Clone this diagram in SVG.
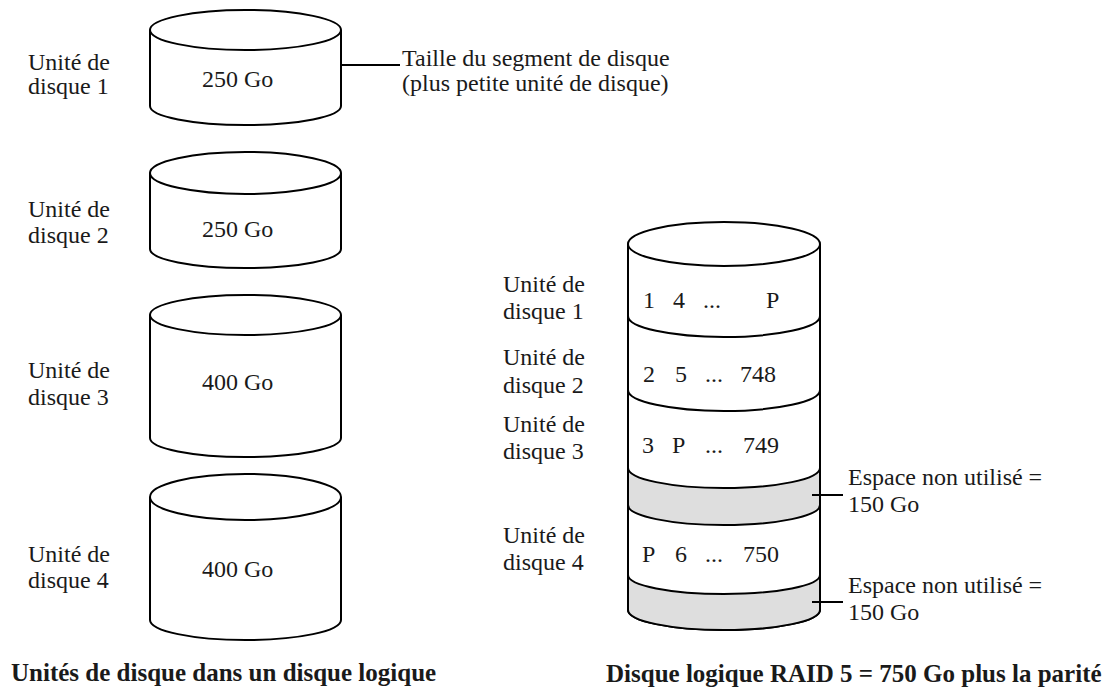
<svg xmlns="http://www.w3.org/2000/svg" width="1112" height="690" viewBox="0 0 1112 690">
<style>
text{font-family:'Liberation Serif','Times New Roman','DejaVu Serif',serif;font-size:24px;fill:#1a1a1a}
.b{font-size:25px;font-weight:bold}
.s{fill:#fff;stroke:#000;stroke-width:2}
.l{fill:none;stroke:#000;stroke-width:2}
.g{fill:#dedede;stroke:none}
</style>
<rect width="1112" height="690" fill="#fff"/>
<g id="disk1">
<path class="s" d="M150,30 L150,106 A95.5,19 0 0 0 341,106 L341,30"/>
<ellipse class="s" cx="245.5" cy="30" rx="95.5" ry="20"/>
<text x="202" y="87">250 Go</text>
<text x="28" y="70">Unité de</text>
<text x="28" y="94">disque 1</text>
</g>
<g id="disk2">
<path class="s" d="M150,173 L150,249 A95.5,19 0 0 0 341,249 L341,173"/>
<ellipse class="s" cx="245.5" cy="173" rx="95.5" ry="21"/>
<text x="202" y="237">250 Go</text>
<text x="28" y="217">Unité de</text>
<text x="28" y="243">disque 2</text>
</g>
<g id="disk3">
<path class="s" d="M150,315 L150,438 A95.5,19 0 0 0 341,438 L341,315"/>
<ellipse class="s" cx="245.5" cy="315" rx="95.5" ry="20"/>
<text x="202" y="390">400 Go</text>
<text x="28" y="378">Unité de</text>
<text x="28" y="405">disque 3</text>
</g>
<g id="disk4">
<path class="s" d="M150,497 L150,620 A95.5,20 0 0 0 341,620 L341,497"/>
<ellipse class="s" cx="245.5" cy="497" rx="95.5" ry="23"/>
<text x="202" y="577">400 Go</text>
<text x="28" y="562">Unité de</text>
<text x="28" y="588">disque 4</text>
</g>
<g id="seg-note">
<text x="402" y="66">Taille du segment de disque</text>
<text x="402" y="91">(plus petite unité de disque)</text>
</g>
<g id="raid">
<path class="s" d="M628,244 L628,610 A96,20 0 0 0 820,610 L820,244"/>
<path class="g" d="M628,468 A96,20 0 0 0 820,468 L820,505 A96,20 0 0 1 628,505 Z"/>
<path class="g" d="M628,575 A96,20 0 0 0 820,575 L820,610 A96,20 0 0 1 628,610 Z"/>
<path class="l" d="M628,244 L628,610 A96,20 0 0 0 820,610 L820,244"/>
<ellipse class="s" cx="724" cy="244" rx="96" ry="22"/>
<path class="l" d="M628,316 A96,21 0 0 0 820,316"/>
<path class="l" d="M628,390 A96,21 0 0 0 820,390"/>
<path class="l" d="M628,468 A96,20 0 0 0 820,468"/>
<path class="l" d="M628,505 A96,20 0 0 0 820,505"/>
<path class="l" d="M628,575 A96,19 0 0 0 820,575"/>
<text y="308"><tspan x="643">1</tspan><tspan x="673">4</tspan><tspan x="703">...</tspan><tspan x="766">P</tspan></text>
<text y="382"><tspan x="643">2</tspan><tspan x="675">5</tspan><tspan x="705">...</tspan><tspan x="740">748</tspan></text>
<text y="453"><tspan x="642">3</tspan><tspan x="672">P</tspan><tspan x="705">...</tspan><tspan x="743">749</tspan></text>
<text y="562"><tspan x="642">P</tspan><tspan x="675">6</tspan><tspan x="705">...</tspan><tspan x="743">750</tspan></text>
<text x="503" y="292">Unité de</text>
<text x="503" y="319">disque 1</text>
<text x="503" y="365">Unité de</text>
<text x="503" y="393">disque 2</text>
<text x="503" y="432">Unité de</text>
<text x="503" y="459">disque 3</text>
<text x="503" y="543">Unité de</text>
<text x="503" y="570">disque 4</text>
</g>
<g id="unused1">
<text x="848" y="485">Espace non utilisé =</text>
<text x="848" y="512">150 Go</text>
</g>
<g id="unused2">
<text x="848" y="593">Espace non utilisé =</text>
<text x="848" y="620">150 Go</text>
</g>
<g id="connectors">
<line class="l" x1="342" y1="65" x2="400" y2="65"/>
<line class="l" x1="812" y1="495" x2="843" y2="495"/>
<line class="l" x1="812" y1="602" x2="843" y2="602"/>
</g>
<g id="titles">
<text class="b" x="11" y="681">Unités de disque dans un disque logique</text>
<text class="b" x="606" y="682">Disque logique RAID 5 = 750 Go plus la parité</text>
</g>
</svg>
